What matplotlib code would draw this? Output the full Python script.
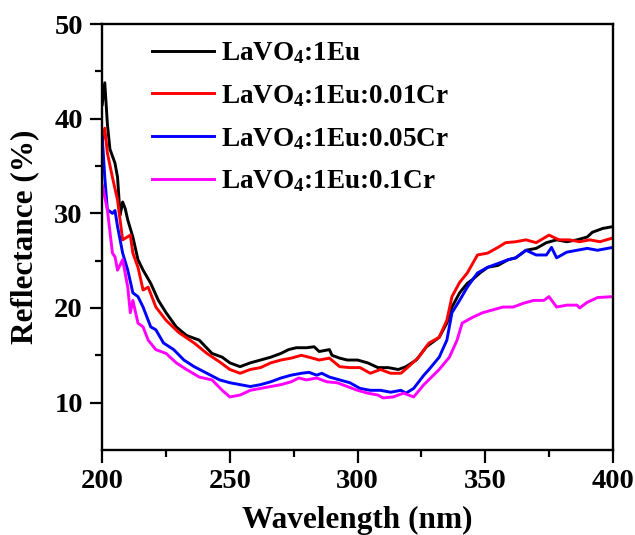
import numpy as np
import matplotlib
matplotlib.use("Agg")
import matplotlib.pyplot as plt

plt.rcParams['font.family'] = ['Liberation Serif', 'DejaVu Serif']
plt.rcParams['font.weight'] = 'bold'
plt.rcParams['mathtext.default'] = 'regular'

# data (wavelength nm, reflectance %)
wl_eu = [200, 201, 202, 203, 205, 206, 207, 208, 209, 210, 212, 214, 216, 219, 222, 225, 229,
         233, 238, 243, 247, 250, 254, 258, 262, 266, 270, 273, 276, 280, 283, 285, 289, 290,
         293, 296, 300, 304, 308, 312, 316, 319, 323, 327, 332, 335, 337, 340, 343, 345, 348,
         351, 355, 359, 362, 366, 370, 374, 378, 382, 386, 390, 392, 396, 400]
r_eu = [41.5, 43.8, 39.5, 36.8, 35.3, 33.8, 29.8, 31.2, 30.5, 29.3, 27.5, 25.1, 24.0, 22.6, 20.8,
        19.5, 18.0, 17.1, 16.6, 15.2, 14.8, 14.2, 13.8, 14.2, 14.5, 14.8, 15.2, 15.6, 15.8, 15.8,
        15.9, 15.4, 15.6, 15.0, 14.7, 14.5, 14.5, 14.2, 13.7, 13.7, 13.5, 13.8, 14.5, 15.9, 16.9,
        18.4, 20.1, 21.6, 22.6, 23.0, 23.7, 24.3, 24.5, 25.1, 25.3, 26.1, 26.3, 26.9, 27.2, 27.0,
        27.2, 27.5, 28.0, 28.4, 28.6]

wl_cr01 = [200, 201, 202, 204, 206, 207, 208, 211, 212, 214, 216, 218, 221, 225, 230, 236, 241,
           246, 250, 254, 258, 262, 266, 270, 274, 278, 281, 285, 289, 293, 297, 301, 305, 309,
           313, 317, 320, 324, 328, 332, 335, 337, 340, 343, 347, 351, 355, 358, 362, 366, 370,
           375, 379, 383, 387, 391, 395, 400]
r_cr01 = [37.5, 39.0, 36.4, 33.8, 31.4, 29.3, 27.2, 27.7, 25.8, 24.3, 21.9, 22.2, 20.1, 18.7, 17.4,
          16.3, 15.2, 14.3, 13.5, 13.1, 13.5, 13.7, 14.2, 14.5, 14.7, 15.0, 14.8, 14.5, 14.7, 13.8,
          13.7, 13.7, 13.1, 13.5, 13.1, 13.1, 13.8, 14.8, 16.3, 16.9, 18.7, 21.2, 22.7, 23.7, 25.6,
          25.8, 26.4, 26.9, 27.0, 27.2, 26.9, 27.7, 27.2, 27.2, 27.0, 27.2, 27.0, 27.4]

wl_cr05 = [200, 201, 202, 204, 205, 206, 208, 210, 212, 214, 216, 219, 221, 224, 228, 232, 236,
           241, 246, 250, 254, 258, 262, 266, 270, 274, 278, 281, 284, 286, 289, 293, 297, 301,
           305, 309, 313, 317, 319, 322, 326, 328, 332, 335, 337, 340, 343, 347, 351, 355, 359,
           362, 366, 370, 374, 376, 378, 382, 386, 390, 394, 400]
r_cr05 = [38.1, 33.8, 30.4, 30.0, 30.3, 28.6, 25.8, 24.0, 21.6, 21.2, 20.1, 18.0, 17.7, 16.3, 15.6,
          14.5, 13.8, 13.1, 12.4, 12.1, 11.9, 11.7, 11.9, 12.2, 12.6, 12.9, 13.1, 13.2, 12.9, 13.1,
          12.7, 12.4, 12.1, 11.5, 11.3, 11.3, 11.1, 11.3, 11.0, 11.5, 12.9, 13.5, 14.8, 16.6, 19.5,
          20.8, 22.2, 23.7, 24.3, 24.7, 25.1, 25.3, 26.1, 25.6, 25.6, 26.4, 25.3, 25.9, 26.1, 26.3,
          26.1, 26.4]

wl_cr1 = [200, 202, 204, 205, 206, 208, 210, 211, 212, 214, 216, 218, 221, 225, 229, 233, 238,
          243, 247, 250, 254, 258, 262, 266, 270, 274, 277, 280, 284, 288, 292, 296, 300, 304,
          308, 310, 314, 318, 322, 326, 329, 332, 336, 339, 341, 345, 349, 353, 357, 361, 365,
          369, 373, 375, 378, 382, 386, 387, 390, 394, 400]
r_cr1 = [33.0, 30.4, 25.8, 25.4, 24.0, 25.1, 22.2, 19.5, 20.8, 18.4, 18.0, 16.6, 15.6, 15.2, 14.2,
         13.5, 12.7, 12.4, 11.3, 10.6, 10.8, 11.3, 11.5, 11.7, 11.9, 12.2, 12.6, 12.4, 12.6, 12.2,
         12.1, 11.7, 11.3, 11.0, 10.8, 10.5, 10.6, 11.0, 10.6, 11.9, 12.7, 13.5, 14.8, 16.6, 18.4,
         19.0, 19.5, 19.8, 20.1, 20.1, 20.5, 20.8, 20.8, 21.2, 20.1, 20.3, 20.3, 20.0, 20.6, 21.1,
         21.2]

labels = ['LaVO$_4$:1Eu', 'LaVO$_4$:1Eu:0.01Cr', 'LaVO$_4$:1Eu:0.05Cr', 'LaVO$_4$:1Eu:0.1Cr']
colors = ['black', 'red', 'blue', 'magenta']

fig = plt.figure(figsize=(6.35, 5.35), dpi=100)
ax = fig.add_axes([0.161, 0.159, 0.804, 0.796])

for wl, r, lab, c in zip([wl_eu, wl_cr01, wl_cr05, wl_cr1], [r_eu, r_cr01, r_cr05, r_cr1],
                         labels, colors):
    ax.plot(wl, r, color=c, lw=2.1, label=lab)

ax.set_xlim(200, 400)
ax.set_ylim(5, 50)
ax.set_xticks(np.arange(200, 401, 50))
ax.set_yticks(np.arange(10, 51, 10))
ax.set_xticks(np.arange(225, 400, 50), minor=True)
ax.set_yticks(np.arange(15, 50, 10), minor=True)
ax.tick_params(which='major', direction='out', length=9, width=1.6, labelsize=20.5, pad=5)
ax.tick_params(which='minor', direction='out', length=5, width=1.6)
for s in ax.spines.values():
    s.set_linewidth(1.7)

ax.set_xlabel('Wavelength (nm)', fontsize=22.5, fontweight='bold', labelpad=8)
ax.set_ylabel('Reflectance (%)', fontsize=22.5, fontweight='bold', labelpad=11)

leg = ax.legend(loc='upper left', bbox_to_anchor=(0.066, 1.0), frameon=False, fontsize=19.5,
                handlelength=2.3, handletextpad=0.25, labelspacing=0.62, borderaxespad=0.2)
for t in leg.get_texts():
    t.set_fontweight('bold')

fig.savefig('out.png', dpi=100)
